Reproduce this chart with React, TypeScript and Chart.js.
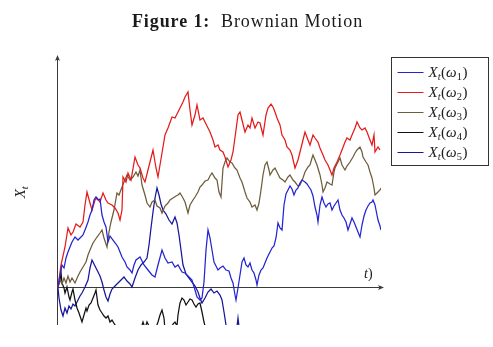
import React, { useEffect, useRef } from "react";
import { Chart, registerables } from "chart.js";

Chart.register(...registerables);

// ---- data (time step index out of 324, value of the path) ----
const seriesLabels = ["X_t(ω_1)", "X_t(ω_2)", "X_t(ω_3)", "X_t(ω_4)", "X_t(ω_5)"];
const seriesSubs = ["1", "2", "3", "4", "5"];

const w1Steps = [1,3,5,7,9,11,13,15,18,21,23,26,28,31,33,35,37,39,41,43,45,47,49,51,53,56,59,61,63,65,68,70,73,75,77,79,83,87,91,95,98,101,105,108,111,115,118,121,125,128,131,135,138,140,143,145,147,149,151,153,155,157,159,161,163,166,169,172,174,176,178,179,181,183,185,187,189,191,193,195,197,199,200,202,204,206,208,210,213,215,217,219,221,223,225,227,229,231,233,235,237,239,241,243,245,248,250,252,254,256,258,260,261,263,265,267,269,271,273,275,277,279,281,283,285,287,289,291,293,295,297,299,301,303,305,307,309,311,313,315,316,318,319,321,323,324];
const w1Values = [0,0.12,0.22,0.19,0.29,0.35,0.40,0.45,0.50,0.47,0.49,0.52,0.57,0.65,0.72,0.77,0.87,0.90,0.87,0.88,0.72,0.65,0.60,0.45,0.51,0.47,0.43,0.40,0.35,0.30,0.25,0.20,0.17,0.14,0.22,0.27,0.30,0.22,0.17,0.12,0.10,0.22,0.37,0.29,0.24,0.25,0.20,0.22,0.15,0.14,0.11,0.07,-0.03,-0.10,-0.13,-0.11,0.05,0.37,0.57,0.49,0.37,0.25,0.21,0.17,0.19,0.21,0.17,0.16,0.09,0.04,-0.08,-0.13,-0.01,0.12,0.25,0.29,0.22,0.20,0.24,0.17,0.14,0.07,0.02,0.12,0.17,0.19,0.24,0.29,0.35,0.39,0.41,0.49,0.64,0.59,0.57,0.82,0.93,0.97,1.01,0.98,0.92,0.97,0.99,1.04,1.07,1.05,1.03,1.00,0.97,0.91,0.80,0.72,0.65,0.82,0.90,0.84,0.80,0.83,0.84,0.77,0.81,0.84,0.87,0.77,0.72,0.69,0.65,0.57,0.63,0.69,0.65,0.60,0.55,0.50,0.62,0.71,0.77,0.81,0.84,0.85,0.87,0.82,0.77,0.67,0.61,0.57];

const w2Steps = [1,4,8,11,14,16,19,23,26,28,30,33,35,38,40,43,46,49,51,55,58,61,63,65,66,69,71,74,78,81,83,86,88,91,93,96,99,101,103,105,108,111,115,118,121,123,126,128,131,133,135,138,140,143,146,148,151,153,156,158,161,163,166,168,171,174,176,179,181,183,185,188,191,193,195,198,201,203,206,209,211,214,216,218,220,223,225,228,230,233,235,238,241,243,246,248,251,253,256,258,261,263,266,268,271,273,275,277,280,283,285,288,290,293,295,298,300,303,305,308,310,313,315,317,318,321,323];
const w2Values = [0,0.22,0.40,0.59,0.52,0.55,0.63,0.60,0.65,0.82,0.95,0.84,0.77,0.87,0.89,0.85,0.94,0.87,0.84,0.82,0.79,0.74,0.67,0.77,1.10,1.05,1.14,1.07,1.30,1.22,1.19,1.09,1.05,1.17,1.25,1.37,1.19,1.10,1.22,1.34,1.52,1.59,1.70,1.69,1.75,1.79,1.85,1.90,1.95,1.77,1.62,1.72,1.82,1.67,1.69,1.65,1.59,1.55,1.47,1.40,1.42,1.37,1.35,1.30,1.20,1.27,1.35,1.57,1.72,1.75,1.67,1.55,1.62,1.59,1.69,1.59,1.65,1.64,1.52,1.72,1.79,1.83,1.80,1.75,1.69,1.62,1.52,1.47,1.40,1.37,1.32,1.19,1.27,1.35,1.47,1.55,1.47,1.42,1.52,1.49,1.45,1.39,1.32,1.27,1.22,1.17,1.12,1.19,1.25,1.32,1.37,1.45,1.49,1.47,1.52,1.59,1.65,1.59,1.57,1.59,1.55,1.47,1.42,1.52,1.35,1.40,1.37];

const w3Steps = [1,3,5,7,9,11,13,15,18,21,23,26,29,31,33,36,38,40,43,45,47,50,52,54,57,60,62,65,67,70,73,76,79,81,83,85,88,90,93,95,98,100,103,105,108,111,113,116,119,121,123,126,128,131,133,136,138,141,143,145,148,151,153,155,158,160,162,164,166,168,170,173,175,178,180,183,185,188,190,193,195,198,200,202,204,206,208,210,212,213,216,218,221,223,226,228,231,233,236,238,241,243,246,248,251,253,255,256,258,260,263,265,266,268,270,273,275,277,278,281,283,285,288,290,293,296,298,300,303,305,306,309,311,313,315,317,318,320,321,323,324];
const w3Values = [0,0.07,0.03,0.09,0.04,0.11,0.05,0.09,0.04,0.11,0.15,0.20,0.25,0.32,0.37,0.44,0.47,0.50,0.54,0.57,0.49,0.40,0.55,0.65,0.77,0.94,0.92,1.00,1.05,1.12,1.07,1.10,1.15,1.11,1.17,1.02,0.92,0.84,0.80,0.85,0.87,0.81,0.79,0.74,0.81,0.84,0.87,0.89,0.91,0.92,0.94,0.89,0.85,0.74,0.82,0.87,0.90,0.95,1.00,1.02,1.06,1.07,1.11,1.14,1.09,1.07,0.95,0.90,1.19,1.25,1.29,1.25,1.24,1.19,1.17,1.09,1.05,0.95,0.89,0.85,0.80,0.82,0.77,0.84,0.97,1.12,1.22,1.25,1.17,1.12,1.17,1.19,1.13,1.09,1.07,1.05,1.10,1.12,1.07,1.05,1.01,1.02,1.09,1.15,1.20,1.22,1.29,1.32,1.27,1.22,1.12,1.02,0.95,0.99,1.05,1.03,1.02,1.15,1.19,1.25,1.29,1.22,1.17,1.21,1.25,1.30,1.34,1.37,1.40,1.35,1.30,1.25,1.22,1.15,1.09,0.99,0.92,0.94,0.95,0.97,0.99];

const w4Steps = [1,3,4,5,7,8,10,12,13,15,16,18,20,22,23,25,27,29,30,32,34,36,38,39,41,43,45,47,49,51,53,55,58,61,63,68,73,78,83,86,88,90,92,94,98,101,103,105,107,108,111,114,116,118,120,121,123,125,127,129,131,133,135,137,139,141,143,145,147,149,153,163,183,213,243,283,324];
const w4Values = [0,0.07,0.15,0.04,-0.01,-0.06,0.00,-0.10,-0.13,-0.05,-0.02,-0.13,-0.21,-0.26,-0.29,-0.35,-0.28,-0.21,-0.24,-0.18,-0.16,-0.11,-0.06,-0.03,-0.18,-0.23,-0.26,-0.29,-0.31,-0.29,-0.35,-0.33,-0.38,-0.40,-0.45,-0.51,-0.48,-0.53,-0.45,-0.35,-0.41,-0.35,-0.39,-0.48,-0.43,-0.35,-0.28,-0.23,-0.31,-0.43,-0.48,-0.43,-0.37,-0.35,-0.39,-0.28,-0.16,-0.11,-0.13,-0.18,-0.15,-0.12,-0.13,-0.17,-0.20,-0.17,-0.16,-0.25,-0.35,-0.43,-0.53,-0.63,-0.78,-0.93,-1.13,-1.03,-1.13];

const w5Steps = [1,2,4,6,8,10,12,14,16,18,21,23,25,28,31,33,35,37,39,41,43,45,47,49,51,53,55,58,61,64,67,70,73,75,78,81,84,87,90,92,94,96,98,100,102,104,106,109,112,115,118,120,122,124,126,129,132,135,138,141,143,145,148,151,154,157,160,163,165,167,169,171,175,179,181,183,187,193,213,243,283,324];
const w5Values = [-0.01,-0.11,-0.23,-0.29,-0.21,-0.26,-0.19,-0.22,-0.17,-0.19,-0.13,-0.09,-0.06,0.00,0.07,0.19,0.27,0.23,0.19,0.15,0.11,0.05,-0.03,-0.10,-0.14,-0.07,-0.02,0.01,0.04,0.07,0.10,0.06,0.03,0.00,0.09,0.17,0.22,0.25,0.29,0.42,0.59,0.75,0.89,0.99,0.92,0.83,0.77,0.73,0.67,0.63,0.70,0.64,0.52,0.37,0.22,0.13,0.09,0.05,0.01,-0.05,-0.11,-0.16,-0.11,-0.05,-0.02,-0.06,-0.04,-0.08,-0.13,-0.25,-0.38,-0.53,-0.63,-0.48,-0.31,-0.48,-0.73,-0.93,-1.08,-1.33,-1.18,-1.43];

const stepMax = 324;
const valueMin = -0.38;
const valueMax = 2.3;

// ---- styles ----
const seriesColors = ["#2424d4", "#e51b1b", "#6e5c3c", "#111111", "#16169a"];
const FAMILY = "'Liberation Serif', 'DejaVu Serif', serif";

type Part = { text: string; italic?: boolean; bold?: boolean; sub?: boolean };

function setFont(ctx: CanvasRenderingContext2D, p: Part, size: number) {
  const s = p.sub ? size * 0.7 : size;
  ctx.font = `${p.italic ? "italic " : ""}${p.bold ? "bold " : ""}${s}px ${FAMILY}`;
}

function partsWidth(ctx: CanvasRenderingContext2D, parts: Part[], size: number) {
  let w = 0;
  for (const p of parts) {
    setFont(ctx, p, size);
    w += ctx.measureText(p.text).width + (p.sub ? 0.5 : 0);
  }
  return w;
}

function drawParts(ctx: CanvasRenderingContext2D, parts: Part[], x: number, y: number, size: number) {
  let cx = x;
  for (const p of parts) {
    setFont(ctx, p, size);
    ctx.fillText(p.text, cx, p.sub ? y + size * 0.22 : y);
    cx += ctx.measureText(p.text).width + (p.sub ? 0.5 : 0);
  }
  return cx - x;
}

function legendParts(i: number): Part[] {
  return [
    { text: "X", italic: true },
    { text: "t", italic: true, sub: true },
    { text: "(" },
    { text: "ω", italic: true },
    { text: seriesSubs[i], sub: true },
    { text: ")" },
  ];
}

const decorPlugin = {
  id: "decor",
  beforeDatasetsDraw(chart: any) {
    const { ctx, chartArea, scales } = chart;
    const { left, right, top, bottom } = chartArea;
    const y0 = scales.y.getPixelForValue(0);
    ctx.save();
    ctx.strokeStyle = "#3a3a3a";
    ctx.fillStyle = "#3a3a3a";
    ctx.lineWidth = 1;
    const ax = Math.round(left) + 0.5;
    ctx.beginPath();
    ctx.moveTo(ax, bottom);
    ctx.lineTo(ax, top + 1);
    ctx.stroke();
    ctx.beginPath();
    ctx.moveTo(ax, top - 2);
    ctx.lineTo(ax - 2.5, top + 4);
    ctx.lineTo(ax, top + 2.5);
    ctx.lineTo(ax + 2.5, top + 4);
    ctx.closePath();
    ctx.fill();
    const ay = Math.round(y0) + 0.5;
    ctx.beginPath();
    ctx.moveTo(left, ay);
    ctx.lineTo(right, ay);
    ctx.stroke();
    ctx.beginPath();
    ctx.moveTo(right + 3, ay);
    ctx.lineTo(right - 3, ay - 2.5);
    ctx.lineTo(right - 1.5, ay);
    ctx.lineTo(right - 3, ay + 2.5);
    ctx.closePath();
    ctx.fill();
    ctx.restore();
  },
  afterDraw(chart: any) {
    const { ctx, chartArea } = chart;
    const { right, top } = chartArea;
    ctx.save();
    ctx.textBaseline = "alphabetic";
    ctx.fillStyle = "#1a1a1a";

    // title
    const titleParts: Part[] = [
      { text: "Figure 1:", bold: true },
      { text: "  Brownian Motion" },
    ];
    const tSize = 18;
    (ctx as any).letterSpacing = "0.9px";
    const tw = partsWidth(ctx, titleParts, tSize);
    drawParts(ctx, titleParts, chart.width / 2 - tw / 2 + 1, 27, tSize);
    (ctx as any).letterSpacing = "0px";

    // axis labels
    drawParts(ctx, [{ text: "t", italic: true }, { text: ")" }], right - 17, 278, 14);
    ctx.save();
    ctx.translate(25, 192);
    ctx.rotate(-Math.PI / 2);
    const yl: Part[] = [{ text: "X", italic: true }, { text: "t", italic: true, sub: true }];
    const yw = partsWidth(ctx, yl, 15);
    drawParts(ctx, yl, -yw / 2, 0, 15);
    ctx.restore();

    // legend
    const bx = right + 10.5;
    const by = top + 0.5;
    const bw = 97;
    const bh = 108;
    ctx.strokeStyle = "#333";
    ctx.lineWidth = 1;
    ctx.strokeRect(bx, by, bw, bh);
    for (let i = 0; i < seriesLabels.length; i++) {
      const cy = top + 15 + i * 20;
      ctx.strokeStyle = seriesColors[i];
      ctx.lineWidth = 1;
      ctx.beginPath();
      ctx.moveTo(bx + 6, cy + 0.5);
      ctx.lineTo(bx + 32, cy + 0.5);
      ctx.stroke();
      ctx.fillStyle = "#1a1a1a";
      drawParts(ctx, legendParts(i), bx + 37, cy + 5, 15);
    }
    ctx.restore();
  },
};

function toPoints(steps: number[], values: number[]) {
  return steps.map((s, i) => ({ x: s, y: values[i] }));
}

export default function App() {
  const ref = useRef<HTMLCanvasElement | null>(null);
  useEffect(() => {
    if (!ref.current) return;
    const all = [
      toPoints(w1Steps, w1Values),
      toPoints(w2Steps, w2Values),
      toPoints(w3Steps, w3Values),
      toPoints(w4Steps, w4Values),
      toPoints(w5Steps, w5Values),
    ];
    const chart = new Chart(ref.current, {
      type: "line",
      data: {
        datasets: all.map((d, i) => ({
          label: seriesLabels[i],
          data: d,
          borderColor: seriesColors[i],
          backgroundColor: seriesColors[i],
          borderWidth: 1.25,
          pointRadius: 0,
          tension: 0,
          fill: false,
        })),
      },
      options: {
        animation: false,
        responsive: false,
        devicePixelRatio: 1,
        layout: { padding: { left: 57, right: 112, top: 57, bottom: 22 } },
        scales: {
          x: { type: "linear", min: 0, max: stepMax, display: false },
          y: { type: "linear", min: valueMin, max: valueMax, display: false },
        },
        plugins: {
          legend: { display: false },
          title: { display: false },
          tooltip: { enabled: false },
        },
      },
      plugins: [decorPlugin],
    });
    return () => chart.destroy();
  }, []);
  return (
    <div style={{ position: "fixed", left: 0, top: 0, width: 493, height: 347, background: "#fff" }}>
      <canvas ref={ref} width={493} height={347} style={{ display: "block" }} />
    </div>
  );
}
